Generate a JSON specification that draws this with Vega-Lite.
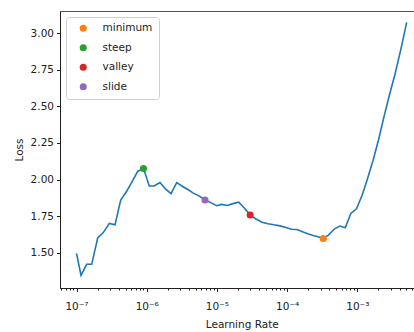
{
  "$schema": "https://vega.github.io/schema/vega-lite/v6.json",
  "width": 363.5,
  "height": 277,
  "autosize": {"type": "none"},
  "padding": {"left": 60, "top": 11, "right": 0, "bottom": 44},
  "background": "white",
  "config": {
    "font": "DejaVu Sans",
    "view": {"stroke": "#555555", "strokeWidth": 1},
    "axis": {
      "grid": false,
      "domainColor": "#222222",
      "tickColor": "#222222",
      "labelColor": "#222222",
      "titleColor": "#222222",
      "labelFont": "DejaVu Sans",
      "titleFont": "DejaVu Sans",
      "labelFontSize": 10.5,
      "titleFontSize": 10.5,
      "titleFontWeight": "normal"
    }
  },
  "datasets": {
    "loss": [
      {"lr": 1.0e-7, "loss": 1.495},
      {"lr": 1.159e-7, "loss": 1.345},
      {"lr": 1.397e-7, "loss": 1.42},
      {"lr": 1.646e-7, "loss": 1.42},
      {"lr": 2.004e-7, "loss": 1.60},
      {"lr": 2.408e-7, "loss": 1.637},
      {"lr": 2.932e-7, "loss": 1.70},
      {"lr": 3.535e-7, "loss": 1.69},
      {"lr": 4.262e-7, "loss": 1.86},
      {"lr": 5.190e-7, "loss": 1.92},
      {"lr": 6.113e-7, "loss": 1.98},
      {"lr": 7.441e-7, "loss": 2.055},
      {"lr": 9.00e-7, "loss": 2.075},
      {"lr": 1.089e-6, "loss": 1.956},
      {"lr": 1.271e-6, "loss": 1.956},
      {"lr": 1.547e-6, "loss": 1.979},
      {"lr": 1.865e-6, "loss": 1.934},
      {"lr": 2.219e-6, "loss": 1.903},
      {"lr": 2.676e-6, "loss": 1.979},
      {"lr": 3.257e-6, "loss": 1.952},
      {"lr": 3.914e-6, "loss": 1.93},
      {"lr": 4.611e-6, "loss": 1.907},
      {"lr": 5.559e-6, "loss": 1.888},
      {"lr": 6.77e-6, "loss": 1.86},
      {"lr": 8.162e-6, "loss": 1.842},
      {"lr": 9.936e-6, "loss": 1.821},
      {"lr": 1.171e-5, "loss": 1.83},
      {"lr": 1.406e-5, "loss": 1.822},
      {"lr": 1.695e-5, "loss": 1.835},
      {"lr": 2.044e-5, "loss": 1.845},
      {"lr": 2.457e-5, "loss": 1.805},
      {"lr": 2.981e-5, "loss": 1.757},
      {"lr": 3.606e-5, "loss": 1.73},
      {"lr": 4.391e-5, "loss": 1.708},
      {"lr": 5.342e-5, "loss": 1.698},
      {"lr": 6.507e-5, "loss": 1.69},
      {"lr": 7.92e-5, "loss": 1.683},
      {"lr": 9.645e-5, "loss": 1.672},
      {"lr": 1.155e-4, "loss": 1.66},
      {"lr": 1.384e-4, "loss": 1.658},
      {"lr": 1.657e-4, "loss": 1.643},
      {"lr": 2.004e-4, "loss": 1.628},
      {"lr": 2.416e-4, "loss": 1.615},
      {"lr": 2.756e-4, "loss": 1.608},
      {"lr": 3.279e-4, "loss": 1.597},
      {"lr": 3.888e-4, "loss": 1.62},
      {"lr": 4.734e-4, "loss": 1.663},
      {"lr": 5.670e-4, "loss": 1.682},
      {"lr": 6.748e-4, "loss": 1.67},
      {"lr": 8.08e-4, "loss": 1.768},
      {"lr": 9.74e-4, "loss": 1.80},
      {"lr": 1.167e-3, "loss": 1.89},
      {"lr": 1.397e-3, "loss": 2.005},
      {"lr": 1.674e-3, "loss": 2.13},
      {"lr": 2.004e-3, "loss": 2.27},
      {"lr": 2.401e-3, "loss": 2.43},
      {"lr": 2.874e-3, "loss": 2.58},
      {"lr": 3.443e-3, "loss": 2.72},
      {"lr": 4.124e-3, "loss": 2.88},
      {"lr": 5.054e-3, "loss": 3.075}
    ],
    "sugg": [
      {"name": "minimum", "lr": 3.279e-4, "loss": 1.597},
      {"name": "steep", "lr": 9.0e-7, "loss": 2.075},
      {"name": "valley", "lr": 2.981e-5, "loss": 1.757},
      {"name": "slide", "lr": 6.77e-6, "loss": 1.86}
    ]
  },
  "layer": [
    {
      "data": {"name": "loss"},
      "mark": {"type": "line", "color": "#1f77b4", "strokeWidth": 1.6, "clip": true},
      "encoding": {
        "x": {
          "field": "lr",
          "type": "quantitative",
          "scale": {"type": "log", "domain": [5.82e-8, 8.77e-3], "nice": false},
          "axis": {
            "title": "Learning Rate",
            "titlePadding": 7,
            "values": [6e-8, 7e-8, 8e-8, 9e-8, 1e-7, 2e-7, 3e-7, 4e-7, 5e-7, 6e-7, 7e-7, 8e-7, 9e-7, 1e-6, 2e-6, 3e-6, 4e-6, 5e-6, 6e-6, 7e-6, 8e-6, 9e-6, 1e-5, 2e-5, 3e-5, 4e-5, 5e-5, 6e-5, 7e-5, 8e-5, 9e-5, 1e-4, 2e-4, 3e-4, 4e-4, 5e-4, 6e-4, 7e-4, 8e-4, 9e-4, 1e-3, 2e-3, 3e-3, 4e-3, 5e-3, 6e-3, 7e-3, 8e-3],
            "labelExpr": "abs(log(datum.value)/LN10 - round(log(datum.value)/LN10)) < 0.001 ? '10' + (round(log(datum.value)/LN10) < 0 ? '⁻' : '') + ['⁰','¹','²','³','⁴','⁵','⁶','⁷','⁸','⁹'][abs(round(log(datum.value)/LN10))] : ''",
            "labelOverlap": false,
            "labelFlush": false,
            "labelPadding": 10,
            "tickSize": {"condition": {"test": "abs(log(datum.value)/LN10 - round(log(datum.value)/LN10)) < 0.001", "value": 3.5}, "value": 2}
          }
        },
        "y": {
          "field": "loss",
          "type": "quantitative",
          "scale": {"domain": [1.258, 3.1525], "nice": false, "zero": false},
          "axis": {
            "title": "Loss",
            "titlePadding": 6,
            "values": [1.5, 1.75, 2.0, 2.25, 2.5, 2.75, 3.0],
            "format": ".2f",
            "tickSize": 3.5,
            "labelPadding": 3
          }
        }
      }
    },
    {
      "data": {"name": "sugg"},
      "mark": {"type": "point", "filled": true, "opacity": 1, "size": 50, "shape": "circle", "clip": true},
      "encoding": {
        "x": {"field": "lr", "type": "quantitative"},
        "y": {"field": "loss", "type": "quantitative"},
        "color": {
          "field": "name",
          "type": "nominal",
          "scale": {"domain": ["minimum", "steep", "valley", "slide"], "range": ["#ff7f0e", "#2ca02c", "#d62728", "#9467bd"]},
          "legend": {
            "title": null,
            "orient": "none",
            "legendX": 6,
            "legendY": 6,
            "symbolType": "circle",
            "symbolSize": 50,
            "symbolStrokeWidth": 0,
            "labelFont": "DejaVu Sans",
            "labelFontSize": 10.5,
            "labelColor": "#222222",
            "labelOffset": 14,
            "padding": 6,
            "rowPadding": 8.5,
            "symbolOffset": 6,
            "strokeColor": "#d0d0d0",
            "fillColor": "white",
            "cornerRadius": 3
          }
        }
      }
    }
  ]
}
